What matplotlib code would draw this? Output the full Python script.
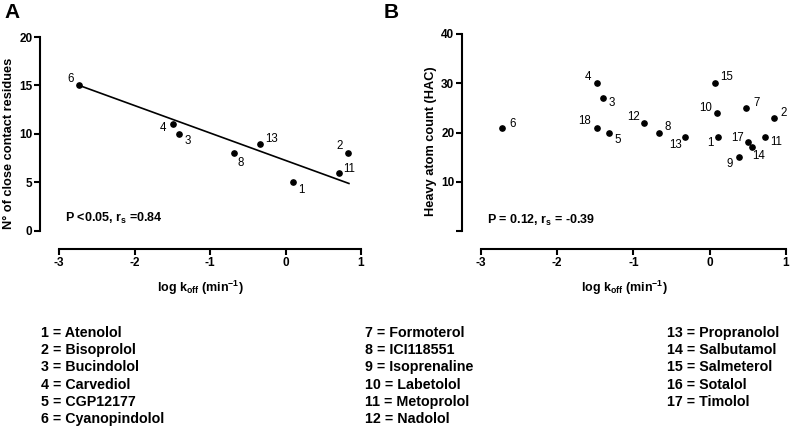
import matplotlib
matplotlib.use("Agg")
import matplotlib.pyplot as plt

plt.rcParams['font.family'] = ['Liberation Sans', 'DejaVu Sans']
plt.rcParams['axes.unicode_minus'] = False
plt.rcParams['mathtext.fontset'] = 'custom'
plt.rcParams['mathtext.rm'] = 'Liberation Sans:bold'
plt.rcParams['mathtext.bf'] = 'Liberation Sans:bold'
plt.rcParams['mathtext.it'] = 'Liberation Sans:bold'

# panel A: close contact residues vs log koff
a_ids = ['6', '4', '3', '8', '13', '1', '11', '2']
a_logkoff = [-2.73, -1.49, -1.41, -0.68, -0.34, 0.10, 0.71, 0.83]
a_contacts = [15, 11, 10, 8, 9, 5, 6, 8]
a_fit_x = [-2.73, 0.84]
a_fit_y = [15.0, 4.9]

# panel B: heavy atom count vs log koff
b_ids = ['6', '4', '3', '18', '5', '12', '8', '13', '15', '10', '1', '7', '2', '17', '14', '11', '9']
b_logkoff = [-2.72, -1.48, -1.40, -1.48, -1.32, -0.86, -0.67, -0.33, 0.07, 0.09, 0.11,
             0.48, 0.84, 0.50, 0.56, 0.72, 0.38]
b_hac = [21, 30, 27, 21, 20, 22, 20, 19, 30, 24, 19, 25, 23, 18, 17, 19, 15]

legend_names = ['Atenolol', 'Bisoprolol', 'Bucindolol', 'Carvediol', 'CGP12177', 'Cyanopindolol',
                'Formoterol', 'ICI118551', 'Isoprenaline', 'Labetolol', 'Metoprolol', 'Nadolol',
                'Propranolol', 'Salbutamol', 'Salmeterol', 'Sotalol', 'Timolol']

# label offsets in pixels (dx right, dy down)
a_offsets = {'6': (-9, -6), '4': (-10, 4), '3': (9, 7), '8': (7, 10), '13': (12, -5),
             '1': (8, 8), '11': (10, -4), '2': (-9, -7)}
b_offsets = {'6': (10, -4), '4': (-9, -6), '3': (9, 5), '18': (-12, -7), '5': (9, 7),
             '12': (-11, -6), '8': (9, -6), '13': (-9, 8), '15': (12, -6), '10': (-11, -5),
             '1': (-8, 6), '7': (10, -5), '2': (10, -5), '17': (-10, -4), '14': (6, 9),
             '11': (11, 5), '9': (-9, 7)}

fig = plt.figure(figsize=(7.9, 4.29), dpi=100)
W, H = 790, 429


def style_axes(ax, xlim, ylim, ybounds, yticks, ylabels):
    ax.set_xlim(*xlim)
    ax.set_ylim(*ylim)
    for s in ['top', 'right']:
        ax.spines[s].set_visible(False)
    for s in ['left', 'bottom']:
        ax.spines[s].set_linewidth(1.5)
    ax.spines['left'].set_bounds(*ybounds)
    ax.spines['bottom'].set_bounds(-3, 1)
    ax.set_xticks([-3, -2, -1, 0, 1])
    ax.set_yticks(yticks)
    ax.set_yticklabels(ylabels)
    ax.tick_params(direction='out', length=4, width=1.5, labelsize=8.5, pad=1.5)
    for t in ax.get_xticklabels() + ax.get_yticklabels():
        t.set_fontweight('bold')
    ax.set_xlabel('log k$_{\\mathbf{off}}$ (min$^{\\mathbf{-1}}$)', fontsize=9,
                  fontweight='bold', labelpad=7)
    ax.patch.set_visible(False)


def annotate(ax, xs, ys, ids, offsets):
    for x, y, lab in zip(xs, ys, ids):
        dx, dy = offsets[lab]
        ax.annotate(lab, (x, y), xytext=(dx * 0.72, -dy * 0.72), textcoords='offset points',
                    ha='center', va='center', fontsize=8.3, clip_on=False)


# panel A
axA = fig.add_axes([40 / W, 1 - 249 / H, (361 - 40) / W, (249 - 37) / H])
style_axes(axA, (-3.252, 1), (-1.856, 20), (0, 20), [0, 5, 10, 15, 20],
           ['0', '5', '10', '15', '20'])
axA.plot(a_logkoff, a_contacts, 'o', color='black', markersize=3.8, clip_on=False)
axA.plot(a_fit_x, a_fit_y, '-', color='black', linewidth=1.2)
annotate(axA, a_logkoff, a_contacts, a_ids, a_offsets)
axA.set_ylabel('N° of close contact residues', fontsize=9.2, fontweight='bold', labelpad=3)
axA.text(-2.92, 1.3, 'P <0.05, r$_{s}$ =0.84', fontsize=9, fontweight='bold',
         ha='left', va='center')

# panel B
axB = fig.add_axes([462 / W, 1 - 249 / H, (786 - 462) / W, (249 - 34) / H])
style_axes(axB, (-3.249, 1), (-3.65, 40), (0, 40), [0, 10, 20, 30, 40],
           ['', '10', '20', '30', '40'])
axB.plot(b_logkoff, b_hac, 'o', color='black', markersize=3.8, clip_on=False)
annotate(axB, b_logkoff, b_hac, b_ids, b_offsets)
axB.set_ylabel('Heavy atom count (HAC)', fontsize=9.2, fontweight='bold', labelpad=3)
axB.text(-2.92, 2.2, 'P = 0.12, r$_{s}$ = -0.39', fontsize=9, fontweight='bold',
         ha='left', va='center')

fig.text(4 / W, 1 - 12 / H, 'A', fontsize=15, fontweight='bold', ha='left', va='center')
fig.text(384 / W, 1 - 12 / H, 'B', fontsize=15, fontweight='bold', ha='left', va='center')

# legend of compound numbers
col_x = [41, 365, 667]
for i, name in enumerate(legend_names):
    col, row = divmod(i, 6)
    fig.text(col_x[col] / W, 1 - (333 + row * 17.2) / H, f'{i + 1} = {name}',
             fontsize=10.3, fontweight='bold', ha='left', va='center')

fig.savefig('out.png', dpi=100)
